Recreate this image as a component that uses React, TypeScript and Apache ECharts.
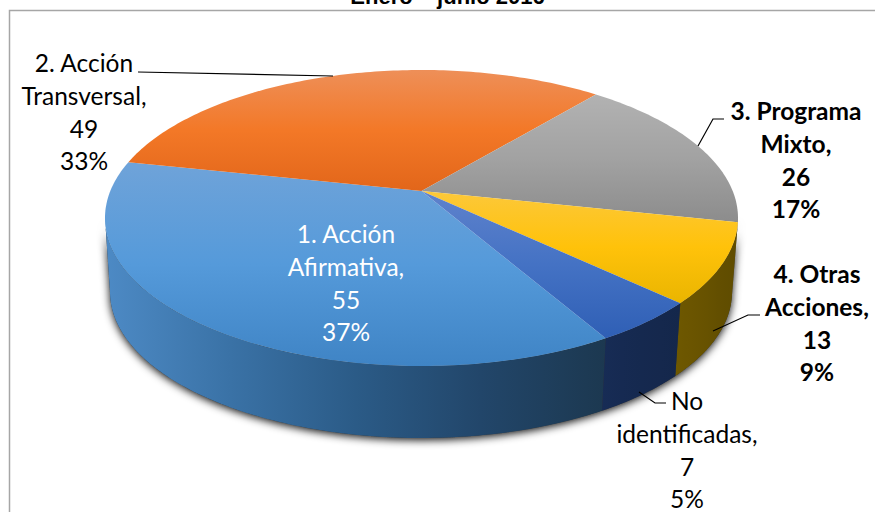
import React, { useEffect, useRef } from "react";
import * as echarts from "echarts";

const titleText = "Enero – junio 2016";
const categoryLines = [
  ["1. Acción", "Afirmativa,"],
  ["2. Acción", "Transversal,"],
  ["3. Programa", "Mixto,"],
  ["4. Otras", "Acciones,"],
  ["No", "identificadas,"],
];
const values = [55, 49, 26, 13, 7];
const percents = ["37%", "33%", "17%", "9%", "5%"];

// ---- appearance / layout (not data) ----
const FONT = "Lato, Carlito, sans-serif";
const labelLayout = [
  { x: 346, y: 217, color: "#ffffff", weight: "normal" },
  { x: 84, y: 46, color: "#000000", weight: "normal" },
  { x: 796, y: 94, color: "#000000", weight: "bold" },
  { x: 817, y: 257, color: "#000000", weight: "bold" },
  { x: 687, y: 384, color: "#000000", weight: "normal" },
];
const leaders = [
  [[138, 72], [333, 76]],
  [[724, 119], [713, 119], [698, 146]],
  [[760, 315], [748, 315], [713, 331]],
  [[666, 403], [655, 403], [639, 392]],
];
const topFill = [
  ["#6fa3d9", "#559ada", "#3f84c5"],
  ["#ee8f58", "#f37827", "#e2661a"],
  ["#b2b2b2", "#a2a2a2", "#8c8c8c"],
  ["#fcc83a", "#ffc20a", "#eab500"],
  ["#5f82cc", "#4472c4", "#2f5fb5"],
];
const sideFill = [
  ["#4d8ac5", "#3a72a6", "#2b5b87", "#22466a", "#1c3850"],
  ["#7a4018", "#7a4018", "#7a4018", "#7a4018", "#7a4018"],
  ["#555555", "#555555", "#555555", "#555555", "#555555"],
  ["#6e5800", "#6b5500", "#675200", "#624e00", "#5f4c00"],
  ["#172c55", "#162a52", "#15294f", "#15284d", "#14274b"],
];
const topRim = { cx: 421.5, cy: 218, rx: 316.5, ry: 148 };
const bottomRim = { cx: 421, cy: 292, rx: 311, ry: 146 };
const BOOST = -0.182;
const START_DEG = 150.1;

const total = values.reduce((a, b) => a + b, 0);
const boundaries: number[] = [START_DEG];
values.forEach((v) => boundaries.push(boundaries[boundaries.length - 1] + (v / total) * 360));

// perspective: a true circle seen through a projective map that keeps its rim an ellipse
function disk(deg: number, r = 1) {
  const t = (deg * Math.PI) / 180;
  const u = r * Math.sin(t);
  const v = -r * Math.cos(t);
  const d = 1 + BOOST * v;
  return { u: (u * Math.sqrt(1 - BOOST * BOOST)) / d, v: (v + BOOST) / d };
}
function pt(rim: typeof topRim, deg: number, r = 1) {
  const p = disk(deg, r);
  return [rim.cx + rim.rx * p.u, rim.cy + rim.ry * p.v];
}
function arc(rim: typeof topRim, a: number, b: number) {
  const n = Math.max(2, Math.ceil(Math.abs(b - a)));
  const out: number[][] = [];
  for (let i = 0; i <= n; i++) out.push(pt(rim, a + ((b - a) * i) / n));
  return out;
}
const vGrad = (c: string[]) =>
  new echarts.graphic.LinearGradient(0, 0, 0, 1, [
    { offset: 0, color: c[0] },
    { offset: 0.5, color: c[1] },
    { offset: 1, color: c[2] },
  ]);
const hGrad = (c: string[]) =>
  new echarts.graphic.LinearGradient(
    0,
    0,
    1,
    0,
    c.map((color, i) => ({ offset: i / (c.length - 1), color }))
  );

const tangentRight = (Math.acos(BOOST) * 180) / Math.PI; // visible side range
const tangentLeft = 360 - tangentRight;

export default function App() {
  const ref = useRef<HTMLDivElement>(null);
  useEffect(() => {
    if (!ref.current) return;
    const chart = echarts.init(ref.current, null, { renderer: "svg" });
    const data = values.map((v) => [v]);

    const renderTop = (params: any) => {
      const i = params.dataIndex;
      const a = boundaries[i];
      const b = boundaries[i + 1];
      const apex = pt(topRim, 0, 0);
      return {
        type: "polygon",
        shape: { points: [apex, ...arc(topRim, a, b)] },
        style: { fill: vGrad(topFill[i]), stroke: null },
      };
    };
    const renderSide = (params: any) => {
      const i = params.dataIndex;
      const wrap = boundaries[i] >= 360 ? 360 : 0;
      const a = Math.max(boundaries[i] - wrap, tangentRight);
      const b = Math.min(boundaries[i + 1] - wrap, tangentLeft);
      if (b <= a) return { type: "group", children: [] };
      const pts = [...arc(topRim, a, b), ...arc(bottomRim, b, a)];
      return {
        type: "polygon",
        shape: { points: pts },
        style: { fill: hGrad(sideFill[i]), stroke: null },
      };
    };
    const renderShadow = () => ({
      type: "polygon",
      shape: {
        points: [...arc(topRim, tangentRight, tangentLeft), ...arc(bottomRim, tangentLeft, tangentRight)],
      },
      style: {
        fill: "#333333",
        stroke: null,
        shadowBlur: 8,
        shadowColor: "rgba(0,0,0,0.95)",
        shadowOffsetX: 0,
        shadowOffsetY: 2,
      },
    });

    const labels = values.map((v, i) => {
      const l = labelLayout[i];
      return {
        type: "text",
        z: 100,
        style: {
          x: l.x,
          y: l.y,
          text: [...categoryLines[i], String(v), percents[i]].join("\n"),
          fill: l.color,
          fontFamily: FONT,
          fontSize: 24.5,
          fontWeight: l.weight,
          lineHeight: 32.8,
          align: "center",
          verticalAlign: "top",
        },
      };
    });
    const leaderEls = leaders.map((points) => ({
      type: "polyline",
      z: 90,
      shape: { points },
      style: { stroke: "#000000", lineWidth: 1.2, fill: null },
    }));

    chart.setOption({
      animation: false,
      backgroundColor: "#ffffff",
      tooltip: { show: false },
      series: [
        { type: "custom", coordinateSystem: "none", z: 1, silent: true, data: [[total]], renderItem: renderShadow },
        { type: "custom", coordinateSystem: "none", z: 2, silent: true, data, renderItem: renderSide },
        { type: "custom", coordinateSystem: "none", z: 3, silent: true, data, renderItem: renderTop },
      ],
      graphic: [
        {
          type: "rect",
          z: 0,
          shape: { x: 9.5, y: 10.5, width: 900, height: 600 },
          style: { fill: "none", stroke: "#a6a6a6", lineWidth: 1.5 },
        },
        {
          type: "text",
          z: 100,
          style: {
            x: 447.5,
            y: -15,
            text: titleText,
            fill: "#000000",
            fontFamily: "'Liberation Sans', Arial, sans-serif",
            fontSize: 22,
            fontWeight: "bold",
            align: "center",
            verticalAlign: "top",
          },
        },
        ...leaderEls,
        ...labels,
      ],
    });
    return () => chart.dispose();
  }, []);
  return <div ref={ref} style={{ position: "absolute", left: 0, top: 0, width: 875, height: 512 }} />;
}
